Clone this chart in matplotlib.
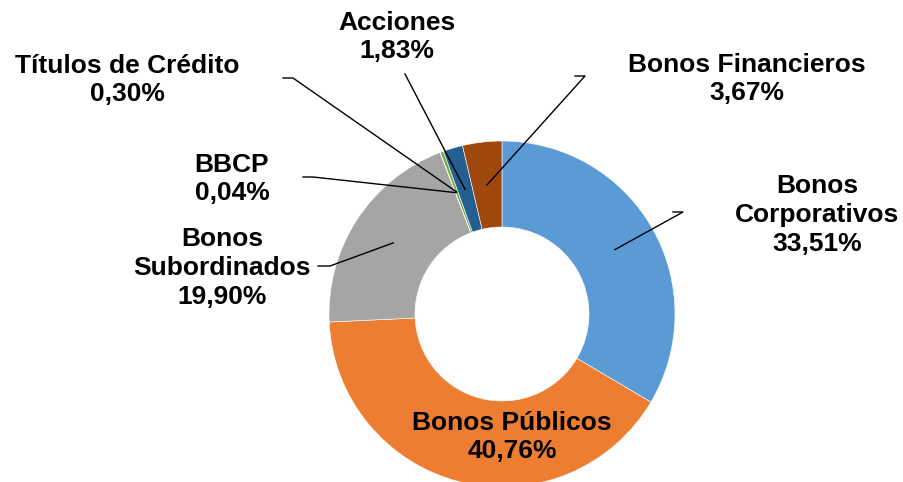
import numpy as np
import matplotlib
matplotlib.use("Agg")
import matplotlib.pyplot as plt

# ------ Data ------ #
categories = ["Bonos\nCorporativos", "Bonos Públicos", "Bonos\nSubordinados", "BBCP",
              "Títulos de Crédito", "Acciones", "Bonos Financieros"]
shares = [33.51, 40.76, 19.90, 0.04, 0.30, 1.83, 3.67]
colors = ["#5B9BD5", "#ED7D31", "#A5A5A5", "#FFC000", "#70AD47", "#255E91", "#9E480E"]

# ------ Layout (pixel coords, y measured from top) ------ #
W, H = 904, 482
CX, CY = 502, 314
R_OUT, R_IN = 173, 87
# label centre (x, y) and leader elbow (x, y, horizontal end x); None = no leader
label_pos = [(817, 215), (512, 437), (222, 268), (232, 179), (127, 80), (397, 37), (747, 79)]
elbows = [(683, 212, 673), None, (330, 266, 318), (313, 177, 303),
          (293, 78, 283), None, (585, 76, 575)]
acc_end = (405, 74)   # Acciones leader starts right under the text

plt.rcParams['font.family'] = ['Liberation Sans', 'DejaVu Sans']
fig = plt.figure(figsize=(W / 100, H / 100), dpi=100)
ax = fig.add_axes([0, 0, 1, 1])

ax.pie(shares, colors=colors, startangle=90, counterclock=False,
       center=(CX, H - CY), radius=R_OUT,
       wedgeprops=dict(width=R_OUT - R_IN, edgecolor='white', linewidth=0.4))
ax.set_xlim(0, W)
ax.set_ylim(0, H)
ax.set_aspect('equal')
ax.axis('off')

# mid-angle anchors of each slice (clockwise from 12 o'clock)
cum = np.cumsum([0] + shares[:-1])
mid = 90 - (cum + np.array(shares) / 2) / sum(shares) * 360
r_mid = (R_OUT + R_IN) / 2
anchors = [(CX + r_mid * np.cos(np.radians(a)), CY - r_mid * np.sin(np.radians(a))) for a in mid]

for i, (name, val) in enumerate(zip(categories, shares)):
    txt = f"{name}\n{val:.2f}%".replace(".", ",")
    lx, ly = label_pos[i]
    ax.text(lx, H - ly, txt, ha='center', va='center', fontsize=19,
            fontweight='bold', linespacing=1.25, color='black')
    ax_, ay_ = anchors[i]
    if elbows[i] is not None:
        ex, ey, hx = elbows[i]
        ax.plot([hx, ex, ax_], [H - ey, H - ey, H - ay_], color='black', lw=1)
    elif name == "Acciones":
        ax.plot([acc_end[0], ax_], [H - acc_end[1], H - ay_], color='black', lw=1)

fig.savefig("out.png", dpi=100)
